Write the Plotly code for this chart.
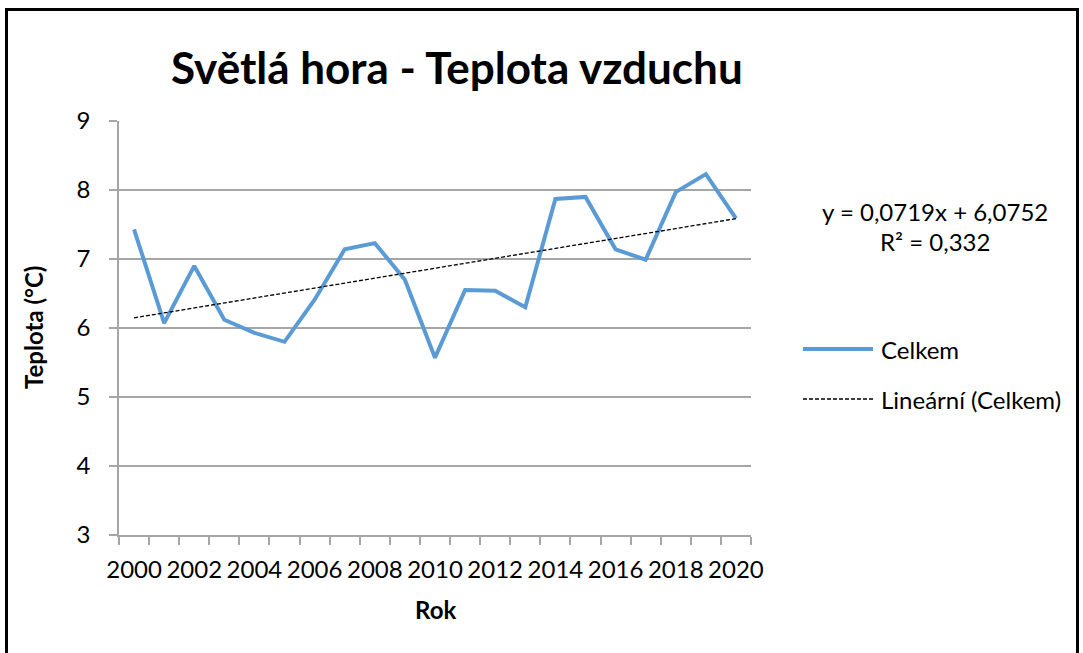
import plotly.graph_objects as go

# Annual mean air temperature, Světlá hora
years = list(range(2000, 2021))
temps = [7.43, 6.07, 6.90, 6.12, 5.93, 5.80, 6.41, 7.14, 7.23, 6.70, 5.57,
         6.55, 6.54, 6.30, 7.87, 7.90, 7.14, 6.99, 7.97, 8.23, 7.59]

# Linear trend (x = 1..21 over the years)
slope = 0.0719
intercept = 6.0752
r_squared = 0.332

x_ticks = list(range(2000, 2021, 2))
y_ticks = list(range(3, 10))

trend = [intercept + slope * (i + 1) for i in range(len(years))]

W, H = 1083, 653
L, R, T, B = 119, 751, 121, 535  # plot area in pixels


def px(x):
    return (x - L) / (R - L)


def py(y):
    return (B - y) / (B - T)


FONT = "Lato, Carlito, Calibri, sans-serif"
BLUE = "#5B9BD5"
GRID = "#A6A6A6"
FS = 24

fig = go.Figure()
fig.add_trace(go.Scatter(x=years, y=temps, mode="lines", name="Celkem",
                         line=dict(color=BLUE, width=4)))
fig.add_trace(go.Scatter(x=years, y=trend, mode="lines", name="Lineární (Celkem)",
                         line=dict(color="black", width=1.3, dash="4px,2px")))

fig.update_layout(
    width=W, height=H,
    margin=dict(l=L, r=W - R, t=T, b=H - B),
    paper_bgcolor="white", plot_bgcolor="white",
    showlegend=False,
    font=dict(family=FONT, size=FS, color="black"),
)

fig.update_xaxes(
    range=[1999.5, 2020.5], tickvals=x_ticks, ticktext=[str(v) for v in x_ticks],
    ticks="", showgrid=False, showline=True, linecolor=GRID, linewidth=1.5,
    tickfont=dict(size=FS), ticklabelstandoff=12,
    minor=dict(tick0=1999.5, dtick=1, ticks="outside", ticklen=8,
               tickcolor=GRID, tickwidth=1.5, showgrid=False),
    zeroline=False, fixedrange=True,
)
fig.update_yaxes(
    range=[3, 9], tickvals=y_ticks, ticks="outside", ticklen=8,
    tickcolor=GRID, tickwidth=1.5, showgrid=True, gridcolor=GRID, gridwidth=1.5,
    showline=True, linecolor=GRID, linewidth=1.5, zeroline=False,
    tickfont=dict(size=FS), ticklabelstandoff=14,
)

# Outer chart border
fig.add_shape(type="rect", xref="paper", yref="paper",
              x0=px(6.5), x1=px(1077.5), y0=py(9.5), y1=py(680),
              line=dict(color="black", width=3), fillcolor="rgba(0,0,0,0)",
              layer="below")

annotations = [
    dict(text="<b>Světlá hora - Teplota vzduchu</b>", x=px(457), y=py(67),
         font=dict(size=44)),
    dict(text="<b>Teplota (°C)</b>", x=px(33), y=py(328), textangle=-90,
         font=dict(size=FS)),
    dict(text="<b>Rok</b>", x=px(435), y=py(609), font=dict(size=FS)),
    dict(text=f"y = {str(slope).replace('.', ',')}x + {str(intercept).replace('.', ',')}",
         x=px(935), y=py(211), font=dict(size=FS)),
    dict(text=f"R² = {str(r_squared).replace('.', ',')}", x=px(935), y=py(241),
         font=dict(size=FS)),
    dict(text="Celkem", x=px(879), y=py(349), xanchor="left", font=dict(size=FS)),
    dict(text="Lineární (Celkem)", x=px(879), y=py(399), xanchor="left",
         font=dict(size=FS)),
]
for a in annotations:
    a.setdefault("xanchor", "center")
    fig.add_annotation(xref="paper", yref="paper", yanchor="middle",
                       showarrow=False, **a)

# Legend samples
fig.add_shape(type="line", xref="paper", yref="paper",
              x0=px(803), x1=px(873), y0=py(349), y1=py(349),
              line=dict(color=BLUE, width=4))
fig.add_shape(type="line", xref="paper", yref="paper",
              x0=px(803), x1=px(873), y0=py(399), y1=py(399),
              line=dict(color="black", width=1.3, dash="4px,2px"))

fig.write_html("out.html")
